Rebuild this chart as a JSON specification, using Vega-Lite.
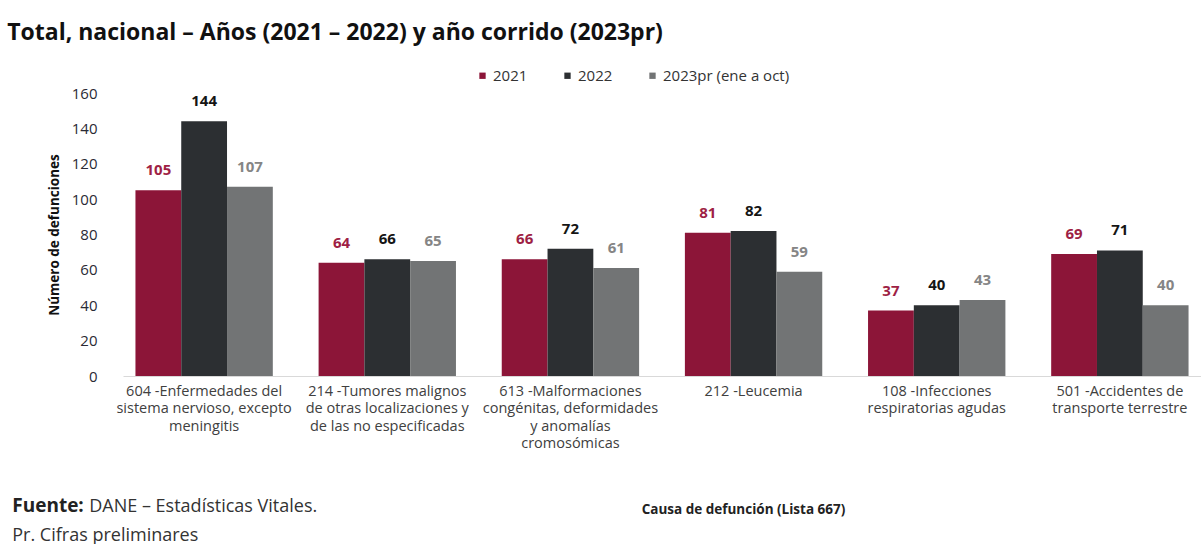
{
  "$schema": "https://vega.github.io/schema/vega-lite/v6.json",
  "background": "white",
  "padding": {"left": 7, "top": 22, "right": 0, "bottom": 0},
  "config": {
    "font": "Open Sans",
    "view": {"stroke": null},
    "concat": {"spacing": 0}
  },
  "title": {
    "text": "Total, nacional – Años (2021 – 2022) y año corrido (2023pr)",
    "anchor": "start",
    "fontSize": 23,
    "fontWeight": "bold",
    "color": "#111111",
    "dx": -5,
    "offset": 23
  },
  "vconcat": [
    {
      "title": {
        "text": "Fuente:",
        "subtitle": "Pr. Cifras preliminares",
        "orient": "bottom",
        "anchor": "start",
        "fontSize": 19,
        "fontWeight": "bold",
        "color": "#222222",
        "subtitleFontSize": 18,
        "subtitleColor": "#333333",
        "subtitlePadding": 11,
        "dx": -35,
        "dy": -23
      },
      "vconcat": [
        {
          "title": {
            "text": "DANE – Estadísticas Vitales.",
            "orient": "bottom",
            "anchor": "start",
            "fontSize": 18,
            "fontWeight": "normal",
            "color": "#333333",
            "dx": 42,
            "dy": -22
          },
          "width": 1078,
          "height": 283,
          "data": {
            "values": [
              {"causa": "604 -Enfermedades del sistema nervioso, excepto meningitis", "anio": "2021", "valor": 105},
              {"causa": "604 -Enfermedades del sistema nervioso, excepto meningitis", "anio": "2022", "valor": 144},
              {"causa": "604 -Enfermedades del sistema nervioso, excepto meningitis", "anio": "2023pr (ene a oct)", "valor": 107},
              {"causa": "214 -Tumores malignos de otras localizaciones y de las no especificadas", "anio": "2021", "valor": 64},
              {"causa": "214 -Tumores malignos de otras localizaciones y de las no especificadas", "anio": "2022", "valor": 66},
              {"causa": "214 -Tumores malignos de otras localizaciones y de las no especificadas", "anio": "2023pr (ene a oct)", "valor": 65},
              {"causa": "613 -Malformaciones congénitas, deformidades y anomalías cromosómicas", "anio": "2021", "valor": 66},
              {"causa": "613 -Malformaciones congénitas, deformidades y anomalías cromosómicas", "anio": "2022", "valor": 72},
              {"causa": "613 -Malformaciones congénitas, deformidades y anomalías cromosómicas", "anio": "2023pr (ene a oct)", "valor": 61},
              {"causa": "212 -Leucemia", "anio": "2021", "valor": 81},
              {"causa": "212 -Leucemia", "anio": "2022", "valor": 82},
              {"causa": "212 -Leucemia", "anio": "2023pr (ene a oct)", "valor": 59},
              {"causa": "108 -Infecciones respiratorias agudas", "anio": "2021", "valor": 37},
              {"causa": "108 -Infecciones respiratorias agudas", "anio": "2022", "valor": 40},
              {"causa": "108 -Infecciones respiratorias agudas", "anio": "2023pr (ene a oct)", "valor": 43},
              {"causa": "501 -Accidentes de transporte terrestre", "anio": "2021", "valor": 69},
              {"causa": "501 -Accidentes de transporte terrestre", "anio": "2022", "valor": 71},
              {"causa": "501 -Accidentes de transporte terrestre", "anio": "2023pr (ene a oct)", "valor": 40}
            ]
          },
          "encoding": {
            "x": {
              "field": "causa",
              "type": "nominal",
              "sort": null,
              "scale": {"paddingInner": 0.25, "paddingOuter": 0.068},
              "axis": {
                "title": "Causa de defunción (Lista 667)",
                "titleFontSize": 13.5,
                "titleFontWeight": "bold",
                "titleColor": "#222222",
                "titleX": 620,
                "titleY": 137,
                "titleBaseline": "alphabetic",
                "labelAngle": 0,
                "labelFontSize": 14.5,
                "labelColor": "#404040",
                "labelLimit": 400,
                "labelLineHeight": 17.5,
                "labelPadding": 8,
                "labelBaseline": "top",
                "ticks": false,
                "domainColor": "#d9d9d9",
                "domainWidth": 1,
                "labelExpr": "split(replace(replace(replace(replace(replace(replace(replace(replace(replace(datum.label, 'del sistema', 'del|sistema'), 'excepto meningitis', 'excepto|meningitis'), 'malignos de', 'malignos|de'), 'localizaciones y de', 'localizaciones y|de'), 'Malformaciones congénitas', 'Malformaciones|congénitas'), 'deformidades y', 'deformidades|y'), 'anomalías cromosómicas', 'anomalías|cromosómicas'), 'Infecciones respiratorias', 'Infecciones|respiratorias'), 'Accidentes de transporte', 'Accidentes de|transporte'), '|')"
              }
            },
            "xOffset": {
              "field": "anio",
              "type": "nominal",
              "sort": null,
              "scale": {"paddingInner": 0, "paddingOuter": 0}
            },
            "y": {
              "field": "valor",
              "type": "quantitative",
              "scale": {"domain": [0, 160], "nice": false},
              "axis": {
                "title": "Número de defunciones",
                "titleFontSize": 13.5,
                "titleFontWeight": "bold",
                "titleColor": "#111111",
                "titlePadding": 10,
                "values": [0, 20, 40, 60, 80, 100, 120, 140, 160],
                "labelFontSize": 15,
                "labelColor": "#2a2a35",
                "labelPadding": 26,
                "ticks": false,
                "domain": false,
                "grid": false
              }
            }
          },
          "layer": [
            {
              "mark": {"type": "bar"},
              "encoding": {
                "color": {
                  "field": "anio",
                  "type": "nominal",
                  "sort": null,
                  "scale": {
                    "domain": ["2021", "2022", "2023pr (ene a oct)"],
                    "range": ["#8c1538", "#2c2f32", "#727475"]
                  },
                  "legend": {
                    "title": null,
                    "orient": "none",
                    "direction": "horizontal",
                    "legendX": 352,
                    "legendY": -25,
                    "symbolType": "square",
                    "symbolSize": 40,
                    "symbolStrokeWidth": 0,
                    "labelFontSize": 15,
                    "labelColor": "#333333",
                    "labelOffset": 3,
                    "columnPadding": 32
                  }
                }
              }
            },
            {
              "mark": {"type": "text", "fontSize": 15, "fontWeight": "bold", "baseline": "alphabetic", "dy": -15},
              "encoding": {
                "text": {"field": "valor", "type": "quantitative"},
                "color": {
                  "field": "anio",
                  "type": "nominal",
                  "sort": null,
                  "scale": {
                    "domain": ["2021", "2022", "2023pr (ene a oct)"],
                    "range": ["#9e1f45", "#151515", "#858585"]
                  },
                  "legend": null
                }
              }
            }
          ],
          "resolve": {"scale": {"color": "independent"}}
        }
      ]
    }
  ]
}
